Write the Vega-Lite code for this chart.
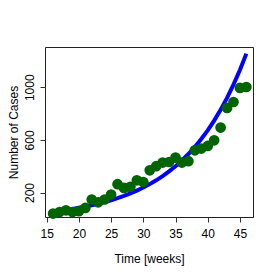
{
  "$schema": "https://vega.github.io/schema/vega-lite/v6.json",
  "width": 208,
  "height": 170,
  "autosize": {"type": "none"},
  "padding": {"left": 45, "top": 47, "right": 24, "bottom": 60},
  "background": "white",
  "config": {
    "view": {"stroke": "#222222", "strokeWidth": 1},
    "font": "Liberation Sans",
    "axis": {
      "labelFont": "Liberation Sans",
      "titleFont": "Liberation Sans",
      "labelFontSize": 12,
      "titleFontSize": 12,
      "titleFontWeight": "normal",
      "labelColor": "#000000",
      "titleColor": "#000000",
      "tickColor": "#333333",
      "tickSize": 5,
      "grid": false,
      "domain": false
    },
    "axisX": {"labelOverlap": false, "labelSeparation": 0}
  },
  "datasets": {
    "pts": [
      {"week": 16, "cases": 40}, {"week": 17, "cases": 52}, {"week": 18, "cases": 65},
      {"week": 19, "cases": 52}, {"week": 20, "cases": 58}, {"week": 21, "cases": 83},
      {"week": 22, "cases": 147}, {"week": 23, "cases": 126}, {"week": 24, "cases": 147},
      {"week": 25, "cases": 185}, {"week": 26, "cases": 263}, {"week": 27, "cases": 235},
      {"week": 28, "cases": 243}, {"week": 29, "cases": 293}, {"week": 30, "cases": 280},
      {"week": 31, "cases": 369}, {"week": 32, "cases": 400}, {"week": 33, "cases": 428},
      {"week": 34, "cases": 432}, {"week": 35, "cases": 466}, {"week": 36, "cases": 428},
      {"week": 37, "cases": 438}, {"week": 38, "cases": 521}, {"week": 39, "cases": 534},
      {"week": 40, "cases": 554}, {"week": 41, "cases": 597}, {"week": 42, "cases": 694},
      {"week": 43, "cases": 843}, {"week": 44, "cases": 888}, {"week": 45, "cases": 995},
      {"week": 46, "cases": 1002}
    ],
    "fit": [
      {"week": 16, "fit": 55.4}, {"week": 17, "fit": 61.5}, {"week": 18, "fit": 68.3},
      {"week": 19, "fit": 75.8}, {"week": 20, "fit": 84.0}, {"week": 21, "fit": 93.3},
      {"week": 22, "fit": 103.5}, {"week": 23, "fit": 114.8}, {"week": 24, "fit": 127.4},
      {"week": 25, "fit": 141.4}, {"week": 26, "fit": 156.9}, {"week": 27, "fit": 174.1},
      {"week": 28, "fit": 193.2}, {"week": 29, "fit": 214.3}, {"week": 30, "fit": 237.8},
      {"week": 31, "fit": 263.9}, {"week": 32, "fit": 292.8}, {"week": 33, "fit": 324.9},
      {"week": 34, "fit": 360.5}, {"week": 35, "fit": 400.0}, {"week": 36, "fit": 443.8},
      {"week": 37, "fit": 492.5}, {"week": 38, "fit": 546.5}, {"week": 39, "fit": 606.4},
      {"week": 40, "fit": 672.8}, {"week": 41, "fit": 746.6}, {"week": 42, "fit": 828.4},
      {"week": 43, "fit": 919.2}, {"week": 44, "fit": 1019.9}, {"week": 45, "fit": 1131.7},
      {"week": 46, "fit": 1255.7}
    ]
  },
  "encoding": {
    "x": {
      "field": "week", "type": "quantitative",
      "scale": {"domain": [14.74, 47.03], "nice": false, "zero": false},
      "axis": {"values": [15, 20, 25, 30, 35, 40, 45], "title": "Time [weeks]", "labelPadding": 6, "titlePadding": 14, "labelOverlap": false, "labelFlush": false}
    }
  },
  "layer": [
    {
      "data": {"name": "fit"},
      "mark": {"type": "line", "color": "#0000FF", "strokeWidth": 4},
      "encoding": {
        "y": {
          "field": "fit", "type": "quantitative",
          "scale": {"domain": [14, 1306], "nice": false, "zero": false},
          "axis": {
            "values": [200, 400, 600, 800, 1000, 1200],
            "labelExpr": "datum.value % 400 == 200 ? datum.label : ''",
            "format": "d",
            "labelAngle": 270,
            "labelAlign": "center",
            "labelBaseline": "bottom",
            "labelPadding": 4,
            "labelOverlap": false,
            "title": "Number of Cases",
            "titlePadding": 3
          }
        }
      }
    },
    {
      "data": {"name": "pts"},
      "mark": {"type": "point", "filled": true, "opacity": 1, "size": 115, "color": "#006400"},
      "encoding": {
        "y": {"field": "cases", "type": "quantitative"}
      }
    }
  ]
}
